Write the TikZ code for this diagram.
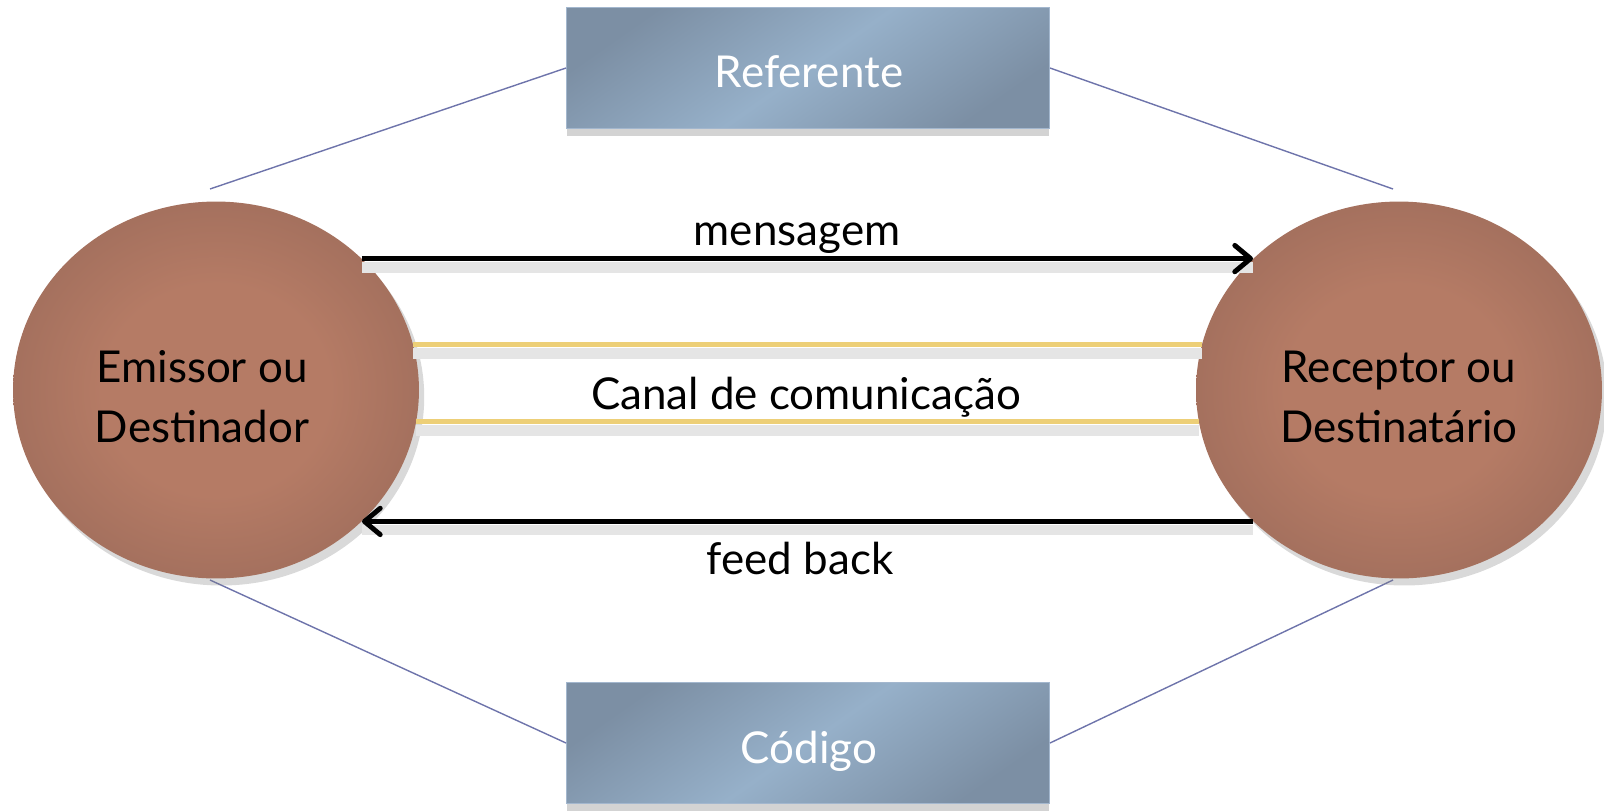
\documentclass[tikz,border=0pt]{standalone}
\usepackage{fontspec}
\setmainfont{Lato}
\usetikzlibrary{shapes.geometric,shadows,arrows.meta}

\definecolor{corpessoa}{HTML}{B57B65}
\definecolor{corpessoaborda}{HTML}{946657}
\definecolor{corcaixameio}{HTML}{96B0C9}
\definecolor{corcaixaborda}{HTML}{7C8FA4}
\definecolor{corcaixalinha}{HTML}{A3B7CE}
\definecolor{corcanal}{HTML}{EDCF77}
\definecolor{corligacao}{HTML}{6E74AB}

\pgfdeclareradialshading{sombrapessoa}{\pgfpoint{0bp}{0bp}}{%
    color(0bp)=(corpessoa); color(14bp)=(corpessoa); color(36bp)=(corpessoaborda);
    color(50bp)=(corpessoaborda)}

\begin{document}
\begin{tikzpicture}[x=0.02cm,y=-0.02cm,
    texto/.style={font=\fontsize{25}{34}\selectfont},
    pessoa/.style={ellipse, inner sep=0pt, minimum width=8.12cm, minimum height=7.54cm,
        shade, shading=sombrapessoa,
        drop shadow={shadow xshift=3pt, shadow yshift=-4pt, opacity=0.3}},
    pessoatexto/.style={texto, align=center},
    caixa/.style={rectangle, minimum width=9.66cm, minimum height=2.42cm,
        draw=corcaixalinha, line width=0.6pt,
        left color=corcaixaborda, right color=corcaixaborda, middle color=corcaixameio,
        shading angle=35,
        drop shadow={shadow xshift=0pt, shadow yshift=-4pt, opacity=0.35}},
    caixatexto/.style={texto, text=white},
    sombra/.style={preaction={draw=black!10, line width=6pt, -, transform canvas={yshift=-5pt}}},
    seta/.style={line width=2.8pt, -{Straight Barb[length=9pt,width=15pt,round]}, sombra},
    canal/.style={draw=corcanal, line width=2.8pt, sombra},
    ligacao/.style={draw=corligacao, line width=0.8pt}]

    % Fix the size of the page
    \useasboundingbox (0,0) rectangle (1604,811);

    % Free ends of the thin lines
    \coordinate (emcima) at (210,189);
    \coordinate (embaixo) at (210,580);
    \coordinate (recima) at (1393,189);
    \coordinate (rebaixo) at (1393,580);

    % The two boxes
    \node[caixa] (referente) at (808,68) {};
    \node[caixa] (codigo) at (808,743) {};
    \node[caixatexto] (referentetxt) at (809,72) {Referente};
    \node[caixatexto] (codigotxt) at (809,751) {Código};

    % Thin lines from the boxes
    \draw[ligacao] (referente.west) -- (emcima);
    \draw[ligacao] (referente.east) -- (recima);
    \draw[ligacao] (codigo.west) -- (embaixo);
    \draw[ligacao] (codigo.east) -- (rebaixo);

    % The two persons
    \node[pessoa] (emissor) at (216,390) {};
    \node[pessoa] (receptor) at (1399,390) {};
    \node[pessoatexto] (emissortxt) at (202,397) {Emissor ou\\Destinador};
    \node[pessoatexto] (receptortxt) at (1399,397) {Receptor ou\\Destinatário};

    % Channel lines
    \draw[canal] (emissor.13) -- (emissor.13 -| receptor.167);
    \draw[canal] (emissor.-9) -- (emissor.-9 -| receptor.189);

    % Message and feed back
    \draw[seta] (emissor.42) -- (emissor.42 -| receptor.138);
    \draw[seta] (receptor.222) -- (receptor.222 -| emissor.318);

    % Labels
    \node[texto] (mensagem) at (797,238) {mensagem};
    \node[texto] (canaltxt) at (806,397) {Canal de comunicação};
    \node[texto] (feedback) at (800,558) {feed back};

\end{tikzpicture}
\end{document}
